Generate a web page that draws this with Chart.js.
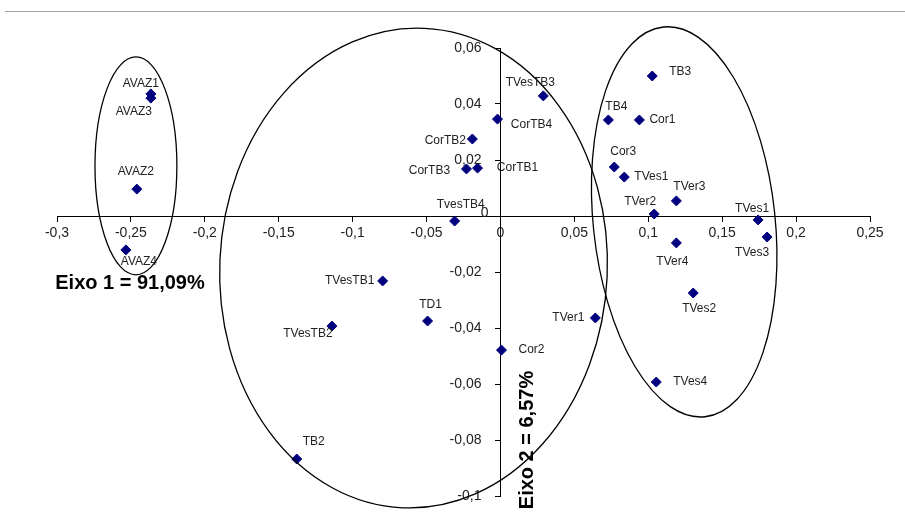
<!DOCTYPE html>
<html>
<head>
<meta charset="utf-8">
<script src="https://cdn.jsdelivr.net/npm/chart.js@4.4.0/dist/chart.umd.min.js"></script>
<style>
  html, body { margin: 0; padding: 0; background: #fff; }
  #wrap { width: 905px; height: 525px; position: relative; }
</style>
</head>
<body>
<div id="wrap"><canvas id="chart"></canvas></div>
<script>
// sample names and their scores on the two axes
const sampleNames = [
  'AVAZ1', 'AVAZ3', 'AVAZ2', 'AVAZ4',
  'TVesTB3', 'CorTB4', 'CorTB2', 'CorTB3', 'CorTB1', 'TvesTB4',
  'TB3', 'TB4', 'Cor1', 'Cor3', 'TVes1', 'TVer3', 'TVer2', 'TVes1',
  'TVes3', 'TVer4', 'TVes2', 'TVes4',
  'TVesTB1', 'TD1', 'TVesTB2', 'Cor2', 'TB2', 'TVer1'
];
const eixo1 = [
  -0.2365, -0.2365, -0.246, -0.2534,
  0.029, -0.002, -0.019, -0.023, -0.0155, -0.031,
  0.1027, 0.073, 0.094, 0.077, 0.0838, 0.119, 0.104, 0.1743,
  0.1804, 0.119, 0.1304, 0.1054,
  -0.0797, -0.0493, -0.114, 0.0007, -0.1378, 0.0642
];
const eixo2 = [
  0.0436, 0.0421, 0.0096, -0.0121,
  0.0429, 0.0346, 0.0275, 0.0168, 0.0171, -0.0018,
  0.05, 0.0343, 0.0343, 0.0175, 0.0139, 0.0054, 0.0007, -0.0014,
  -0.0075, -0.0096, -0.0275, -0.0593,
  -0.0232, -0.0375, -0.0393, -0.0479, -0.0868, -0.0364
];
const xTickValues = [-0.3, -0.25, -0.2, -0.15, -0.1, -0.05, 0, 0.05, 0.1, 0.15, 0.2, 0.25];
const yTickValues = [-0.1, -0.08, -0.06, -0.04, -0.02, 0, 0.02, 0.04, 0.06];
const axisTitle1 = 'Eixo 1 = 91,09%';
const axisTitle2 = 'Eixo 2 = 6,57%';

// where each name sits relative to its point (px)
const labelOffsets = [
  [-10, -10], [-17, 14], [-1, -17], [13, 12],
  [-13, -13], [34, 6], [-27, 2], [-37, 2], [40, 0], [6, -16],
  [28, -4], [8, -13], [23, 0], [9, -15], [27, 0], [13, -14], [-14, -12], [-6, -11],
  [-15, 16], [-4, 19], [6, 16], [34, 0],
  [-33, 0], [3, -16], [-24, 8], [30, 0], [17, -17], [-27, 0]
];

// group ellipses, in axis units (rotation in degrees)
const groups = [
  { cx: -0.2466, cy: 0.0179, rx: 0.0277, ry: 0.0389, rot: 0 },
  { cx: -0.0588, cy: -0.0186, rx: 0.1311, ry: 0.0857, rot: 2.6 },
  { cx: 0.1243, cy: -0.0021, rx: 0.0615, ry: 0.07, rot: -6.1 }
];

const fmt = (v) => (Math.round(v * 100) / 100).toString().replace('.', ',');
const FONT = '"Liberation Sans", Arial, sans-serif';

const overlay = {
  id: 'overlay',
  afterDatasetsDraw(chart) {
    const { ctx, scales: { x, y } } = chart;
    ctx.save();

    // frame line at the top
    ctx.strokeStyle = '#a0a0a0';
    ctx.lineWidth = 1;
    ctx.beginPath();
    ctx.moveTo(5, 11.5);
    ctx.lineTo(905, 11.5);
    ctx.stroke();

    // y tick labels, left of the vertical axis
    const axisX = x.getPixelForValue(0);
    ctx.font = '14px ' + FONT;
    ctx.fillStyle = '#222';
    ctx.textAlign = 'right';
    ctx.textBaseline = 'middle';
    y.ticks.forEach((t) => {
      const py = y.getPixelForValue(t.value);
      ctx.fillText(fmt(t.value), t.value === 0 ? axisX - 12 : axisX - 19, t.value === 0 ? py - 3 : py);
    });

    // ellipses
    ctx.strokeStyle = '#000';
    ctx.lineWidth = 1.3;
    groups.forEach((g) => {
      const cx = x.getPixelForValue(g.cx);
      const cy = y.getPixelForValue(g.cy);
      const rx = Math.abs(x.getPixelForValue(g.cx + g.rx) - cx);
      const ry = Math.abs(y.getPixelForValue(g.cy + g.ry) - cy);
      ctx.beginPath();
      ctx.ellipse(cx, cy, rx, ry, g.rot * Math.PI / 180, 0, Math.PI * 2);
      ctx.stroke();
    });

    // point names
    ctx.font = '12px ' + FONT;
    ctx.fillStyle = '#222';
    ctx.textAlign = 'center';
    chart.getDatasetMeta(0).data.forEach((pt, i) => {
      const [dx, dy] = labelOffsets[i];
      ctx.fillText(sampleNames[i], pt.x + dx, pt.y + dy);
    });

    // axis titles
    ctx.font = 'bold 20px ' + FONT;
    ctx.fillStyle = '#000';
    ctx.fillText(axisTitle1, 130, 283);
    ctx.translate(527, 440);
    ctx.rotate(-Math.PI / 2);
    ctx.fillText(axisTitle2, 0, 0);

    ctx.restore();
  }
};

new Chart(document.getElementById('chart'), {
  type: 'scatter',
  data: {
    datasets: [{
      data: eixo1.map((v, i) => ({ x: v, y: eixo2[i] })),
      pointStyle: 'rectRot',
      pointRadius: 5,
      pointBackgroundColor: '#00007f',
      pointBorderColor: '#00007f',
      pointBorderWidth: 1
    }]
  },
  options: {
    responsive: true,
    maintainAspectRatio: false,
    animation: false,
    layout: { padding: { left: 57, right: 35, top: 48, bottom: 29 } },
    plugins: { legend: { display: false }, tooltip: { enabled: false } },
    scales: {
      x: {
        type: 'linear',
        min: -0.3,
        max: 0.25,
        position: { y: 0 },
        afterFit(scale) { scale.height = 0; },
        afterBuildTicks(scale) { scale.ticks = xTickValues.map((v) => ({ value: v })); },
        ticks: { callback: fmt, color: '#222', font: { family: FONT, size: 14 }, padding: 4, maxRotation: 0, autoSkip: false },
        grid: { drawOnChartArea: false, drawTicks: true, tickLength: 5, color: '#000' },
        border: { color: '#000', width: 1 }
      },
      y: {
        type: 'linear',
        min: -0.1,
        max: 0.06,
        position: { x: 0 },
        afterFit(scale) { scale.width = 0; },
        afterBuildTicks(scale) { scale.ticks = yTickValues.map((v) => ({ value: v })); },
        ticks: { display: false, autoSkip: false },
        grid: { drawOnChartArea: false, drawTicks: true, tickLength: 5, color: '#000' },
        border: { color: '#000', width: 1 }
      }
    }
  },
  plugins: [overlay]
});
</script>
</body>
</html>
